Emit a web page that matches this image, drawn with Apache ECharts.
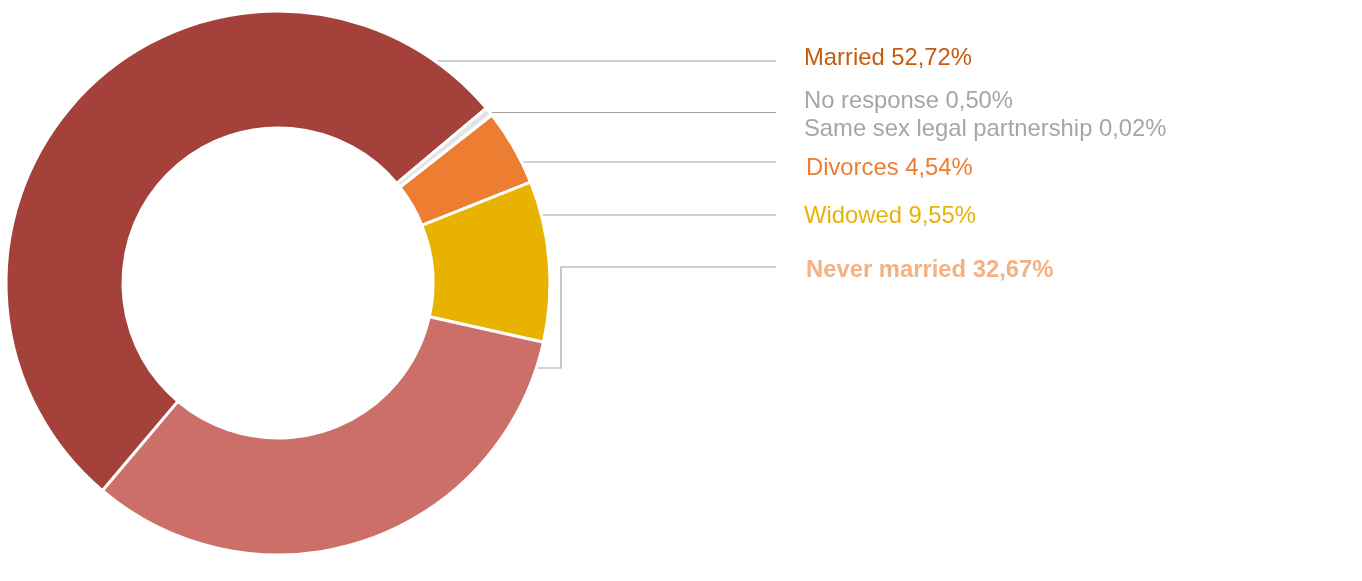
<!DOCTYPE html>
<html>
<head>
<meta charset="utf-8">
<title>Marital status</title>
<script src="https://cdn.jsdelivr.net/npm/echarts@6/dist/echarts.min.js"></script>
<style>
  html, body { margin: 0; padding: 0; background: #fff; }
  #chart { width: 1362px; height: 581px; }
</style>
</head>
<body>
<div id="chart"></div>
<script>
// data
const categories = ['Married', 'No response', 'Same sex legal partnership', 'Divorces', 'Widowed', 'Never married'];
const shares = [52.72, 0.50, 0.02, 4.54, 9.55, 32.67];

// styles
const sliceColors = ['#A5413B', '#E3E3E3', '#C8C8C8', '#ED7D31', '#E8B200', '#CB6F68'];
const labelColors = ['#C55A11', '#A6A6A6', '#A6A6A6', '#ED7D31', '#E8B20A', '#F4B183'];

// label layout (pixels)
const CX = 278, CY = 283, R_IN = 155, R_OUT = 272;
const LABEL_X = [804, 804, 804, 806, 804, 806];
const labelY = [58, 101, 129, 168, 216, 270];
const leaderY = [61, 112.5, null, 162, 215, 368];
const LINE_END = 776;
const ELBOW_X = 561;

const chart = echarts.init(document.getElementById('chart'));

const option = {
  animation: false,
  series: [{
    type: 'pie',
    center: [CX, CY],
    radius: [R_IN, R_OUT],
    startAngle: 229.8,
    clockwise: true,
    avoidLabelOverlap: false,
    itemStyle: { borderColor: '#fff', borderWidth: 3 },
    label: {
      show: true,
      position: 'outside',
      fontFamily: '"Liberation Sans", Arial, sans-serif',
      fontSize: 23.8,
      formatter: p => p.name + ' ' + p.value.toFixed(2).replace('.', ',') + '%'
    },
    labelLine: {
      show: true,
      lineStyle: { color: '#A3A3A3', width: 1.2 }
    },
    labelLayout: function (p) {
      const i = p.dataIndex;
      const out = { x: LABEL_X[i], y: labelY[i], align: 'left', verticalAlign: 'middle' };
      const ly = leaderY[i];
      if (ly != null) {
        const dy = ly - CY;
        const r = R_OUT - 1;
        const sx = CX + Math.sqrt(r * r - dy * dy);
        if (i === 5) {
          out.labelLinePoints = [[sx, ly], [ELBOW_X, ly], [ELBOW_X, 267], [LINE_END, 267]];
        } else {
          out.labelLinePoints = [[sx, ly], [LINE_END, ly]];
        }
      }
      return out;
    },
    data: categories.map((name, i) => ({
      name: name,
      value: shares[i],
      itemStyle: { color: sliceColors[i] },
      label: {
        color: labelColors[i],
        fontWeight: i === 5 ? 'bold' : 'normal'
      },
      labelLine: { show: leaderY[i] != null }
    }))
  }]
};

chart.setOption(option);
</script>
</body>
</html>
